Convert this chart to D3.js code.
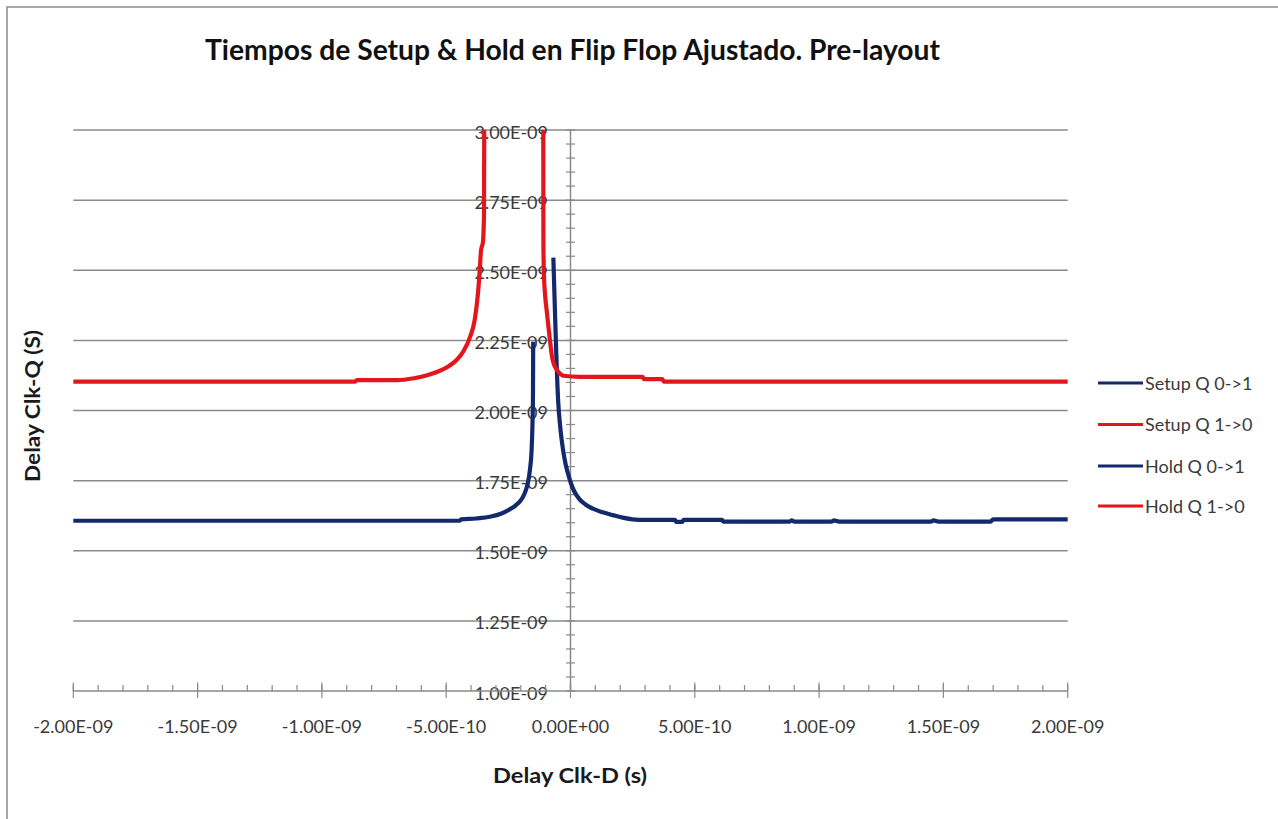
<!DOCTYPE html>
<html>
<head>
<meta charset="utf-8">
<script src="https://cdn.jsdelivr.net/npm/d3@7"></script>
<style>
  html, body { margin: 0; padding: 0; background: #ffffff; }
  svg { display: block; }
  text { font-family: Lato, "Open Sans", "DejaVu Sans", sans-serif; }
</style>
</head>
<body>
<svg id="chart" width="1278" height="819"></svg>
<script>
// ---- Data (seconds) -------------------------------------------------------
const setupQ01_x = [-2.00e-9, -1.20e-9, -0.80e-9, -0.445e-9, -0.44e-9, -0.38e-9, -0.32e-9, -0.28e-9, -0.25e-9, -0.22e-9, -0.20e-9, -0.185e-9, -0.172e-9, -0.163e-9, -0.157e-9, -0.153e-9, -0.151e-9, -0.150e-9];
const setupQ01_y = [1.607e-9, 1.607e-9, 1.607e-9, 1.607e-9, 1.612e-9, 1.615e-9, 1.622e-9, 1.632e-9, 1.645e-9, 1.662e-9, 1.680e-9, 1.703e-9, 1.740e-9, 1.790e-9, 1.850e-9, 1.950e-9, 2.050e-9, 2.245e-9];

const setupQ10_x = [-2.00e-9, -0.866e-9, -0.86e-9, -0.70e-9, -0.63e-9, -0.58e-9, -0.53e-9, -0.49e-9, -0.46e-9, -0.43e-9, -0.405e-9, -0.385e-9, -0.372e-9, -0.365e-9, -0.360e-9, -0.352e-9, -0.348e-9, -0.347e-9];
const setupQ10_y = [2.103e-9, 2.103e-9, 2.108e-9, 2.108e-9, 2.115e-9, 2.125e-9, 2.140e-9, 2.158e-9, 2.178e-9, 2.212e-9, 2.260e-9, 2.325e-9, 2.420e-9, 2.500e-9, 2.570e-9, 2.602e-9, 2.700e-9, 3.000e-9];

const holdQ01_x = [-0.069e-9, -0.059e-9, -0.050e-9, -0.040e-9, -0.030e-9, -0.020e-9, -0.010e-9, 0.000e-9, 0.015e-9, 0.035e-9, 0.06e-9, 0.09e-9, 0.13e-9, 0.17e-9, 0.21e-9, 0.25e-9, 0.30e-9, 0.42e-9, 0.425e-9, 0.45e-9, 0.455e-9, 0.61e-9, 0.615e-9, 0.88e-9, 0.89e-9, 0.90e-9, 1.05e-9, 1.06e-9, 1.08e-9, 1.45e-9, 1.46e-9, 1.48e-9, 1.69e-9, 1.70e-9, 2.00e-9];
const holdQ01_y = [2.545e-9, 2.250e-9, 2.040e-9, 1.930e-9, 1.860e-9, 1.810e-9, 1.775e-9, 1.745e-9, 1.712e-9, 1.685e-9, 1.665e-9, 1.650e-9, 1.637e-9, 1.627e-9, 1.618e-9, 1.612e-9, 1.610e-9, 1.610e-9, 1.603e-9, 1.603e-9, 1.610e-9, 1.610e-9, 1.604e-9, 1.604e-9, 1.608e-9, 1.604e-9, 1.604e-9, 1.608e-9, 1.604e-9, 1.604e-9, 1.608e-9, 1.604e-9, 1.604e-9, 1.612e-9, 1.612e-9];

const holdQ10_x = [-0.1095e-9, -0.109e-9, -0.107e-9, -0.102e-9, -0.095e-9, -0.089e-9, -0.082e-9, -0.075e-9, -0.067e-9, -0.055e-9, -0.040e-9, -0.029e-9, 0.038e-9, 0.20e-9, 0.29e-9, 0.295e-9, 0.37e-9, 0.375e-9, 2.00e-9];
const holdQ10_y = [3.000e-9, 2.600e-9, 2.490e-9, 2.410e-9, 2.350e-9, 2.300e-9, 2.245e-9, 2.195e-9, 2.165e-9, 2.145e-9, 2.130e-9, 2.124e-9, 2.120e-9, 2.120e-9, 2.120e-9, 2.112e-9, 2.112e-9, 2.103e-9, 2.103e-9];

const seriesNames  = ["Setup Q 0->1", "Setup Q 1->0", "Hold Q 0->1", "Hold Q 1->0"];
const seriesColors = ["#13296c", "#e3161c", "#13296c", "#e3161c"];

const xTickValues = [-2.0e-9, -1.5e-9, -1.0e-9, -0.5e-9, 0, 0.5e-9, 1.0e-9, 1.5e-9, 2.0e-9];
const xTickLabels = ["-2.00E-09", "-1.50E-09", "-1.00E-09", "-5.00E-10", "0.00E+00", "5.00E-10", "1.00E-09", "1.50E-09", "2.00E-09"];
const yTickValues = [1.0e-9, 1.25e-9, 1.5e-9, 1.75e-9, 2.0e-9, 2.25e-9, 2.5e-9, 2.75e-9, 3.0e-9];
const yTickLabels = ["1.00E-09", "1.25E-09", "1.50E-09", "1.75E-09", "2.00E-09", "2.25E-09", "2.50E-09", "2.75E-09", "3.00E-09"];

const titleText  = "Tiempos de Setup & Hold en Flip Flop Ajustado. Pre-layout";
const xTitleText = "Delay Clk-D (s)";
const yTitleText = "Delay Clk-Q (S)";

// ---- Layout ---------------------------------------------------------------
const svg = d3.select("#chart");
const plot = { left: 73.3, right: 1067.7, top: 130, bottom: 691 };

const x = d3.scaleLinear().domain([-2.0e-9, 2.0e-9]).range([plot.left, plot.right]);
const y = d3.scaleLinear().domain([1.0e-9, 3.0e-9]).range([plot.bottom, plot.top]);

const gridColor = "#8a8a8a";
const axisColor = "#8a8a8a";
const textColor = "#3a3a3a";

// chart frame (right and bottom edges fall outside the page)
svg.append("rect")
  .attr("x", 7).attr("y", 7).attr("width", 1300).attr("height", 840)
  .attr("fill", "none").attr("stroke", "#8c8c8c").attr("stroke-width", 1.5);

// horizontal gridlines
svg.append("g")
  .selectAll("line")
  .data(yTickValues.slice(1))
  .join("line")
  .attr("x1", plot.left).attr("x2", plot.right)
  .attr("y1", d => y(d)).attr("y2", d => y(d))
  .attr("stroke", gridColor).attr("stroke-width", 1.5);

// minor tick values
const xMinor = d3.range(0, 41).map(i => -2.0e-9 + i * 0.1e-9);
const yMinor = d3.range(0, 41).map(i => 1.0e-9 + i * 0.05e-9);

// y axis at x = 0
const yAxisX = x(0);
const gY = svg.append("g").attr("class", "y-axis");
gY.append("line")
  .attr("x1", yAxisX).attr("x2", yAxisX)
  .attr("y1", plot.top).attr("y2", plot.bottom)
  .attr("stroke", axisColor).attr("stroke-width", 1.5);
gY.selectAll("line.minor")
  .data(yMinor)
  .join("line")
  .attr("class", "minor")
  .attr("x1", yAxisX - 4.5).attr("x2", yAxisX + 4.5)
  .attr("y1", d => y(d)).attr("y2", d => y(d))
  .attr("stroke", axisColor).attr("stroke-width", 1.2);
gY.selectAll("text")
  .data(yTickValues)
  .join("text")
  .attr("x", 548)
  .attr("y", d => y(d) + 8.5)
  .attr("text-anchor", "end")
  .attr("font-size", 18)
  .attr("fill", textColor)
  .text((d, i) => yTickLabels[i]);

// x axis along the bottom
const xAxisY = y(1.0e-9);
const gX = svg.append("g").attr("class", "x-axis");
gX.append("line")
  .attr("x1", plot.left).attr("x2", plot.right)
  .attr("y1", xAxisY).attr("y2", xAxisY)
  .attr("stroke", axisColor).attr("stroke-width", 1.5);
gX.selectAll("line.minor")
  .data(xMinor)
  .join("line")
  .attr("class", "minor")
  .attr("x1", d => x(d)).attr("x2", d => x(d))
  .attr("y1", xAxisY - 6).attr("y2", xAxisY)
  .attr("stroke", axisColor).attr("stroke-width", 1.2);
gX.selectAll("line.major")
  .data(xTickValues)
  .join("line")
  .attr("class", "major")
  .attr("x1", d => x(d)).attr("x2", d => x(d))
  .attr("y1", xAxisY - 8.5).attr("y2", xAxisY + 7)
  .attr("stroke", axisColor).attr("stroke-width", 1.2);
gX.selectAll("text")
  .data(xTickValues)
  .join("text")
  .attr("x", d => x(d))
  .attr("y", 733)
  .attr("text-anchor", "middle")
  .attr("font-size", 18)
  .attr("fill", textColor)
  .text((d, i) => xTickLabels[i]);

// ---- Series ---------------------------------------------------------------
const seriesData = [
  d3.zip(setupQ01_x, setupQ01_y),
  d3.zip(setupQ10_x, setupQ10_y),
  d3.zip(holdQ01_x, holdQ01_y),
  d3.zip(holdQ10_x, holdQ10_y)
];

svg.append("clipPath").attr("id", "plot-clip")
  .append("rect")
  .attr("x", plot.left - 3).attr("y", plot.top)
  .attr("width", plot.right - plot.left + 6).attr("height", plot.bottom - plot.top);

const line = d3.line()
  .x(d => x(d[0]))
  .y(d => y(d[1]))
  .curve(d3.curveMonotoneX);

svg.append("g")
  .attr("clip-path", "url(#plot-clip)")
  .selectAll("path")
  .data(seriesData)
  .join("path")
  .attr("d", line)
  .attr("fill", "none")
  .attr("stroke", (d, i) => seriesColors[i])
  .attr("stroke-width", 4.2)
  .attr("stroke-linejoin", "round")
  .attr("stroke-linecap", "butt");

// ---- Legend ---------------------------------------------------------------
const legendRows = [383, 424.5, 466, 506];
const legend = svg.append("g").attr("class", "legend");
const items = legend.selectAll("g")
  .data(seriesNames)
  .join("g")
  .attr("transform", (d, i) => `translate(0,${legendRows[i]})`);
items.append("line")
  .attr("x1", 1098).attr("x2", 1143)
  .attr("y1", 0).attr("y2", 0)
  .attr("stroke", (d, i) => seriesColors[i])
  .attr("stroke-width", 3);
items.append("text")
  .attr("x", 1145)
  .attr("y", 6.5)
  .attr("font-size", 18)
  .attr("fill", textColor)
  .text(d => d);

// ---- Titles ---------------------------------------------------------------
svg.append("text")
  .attr("x", 572.5).attr("y", 60)
  .attr("text-anchor", "middle")
  .attr("font-size", 28)
  .attr("font-weight", "bold")
  .attr("fill", "#111111")
  .attr("textLength", 735)
  .attr("lengthAdjust", "spacingAndGlyphs")
  .text(titleText);

svg.append("text")
  .attr("x", 570).attr("y", 783)
  .attr("text-anchor", "middle")
  .attr("font-size", 20)
  .attr("font-weight", "bold")
  .attr("fill", "#1a1a1a")
  .attr("textLength", 154)
  .attr("lengthAdjust", "spacingAndGlyphs")
  .text(xTitleText);

svg.append("text")
  .attr("transform", "translate(40,406) rotate(-90)")
  .attr("text-anchor", "middle")
  .attr("font-size", 20)
  .attr("font-weight", "bold")
  .attr("fill", "#1a1a1a")
  .attr("textLength", 152)
  .attr("lengthAdjust", "spacingAndGlyphs")
  .text(yTitleText);
</script>
</body>
</html>
